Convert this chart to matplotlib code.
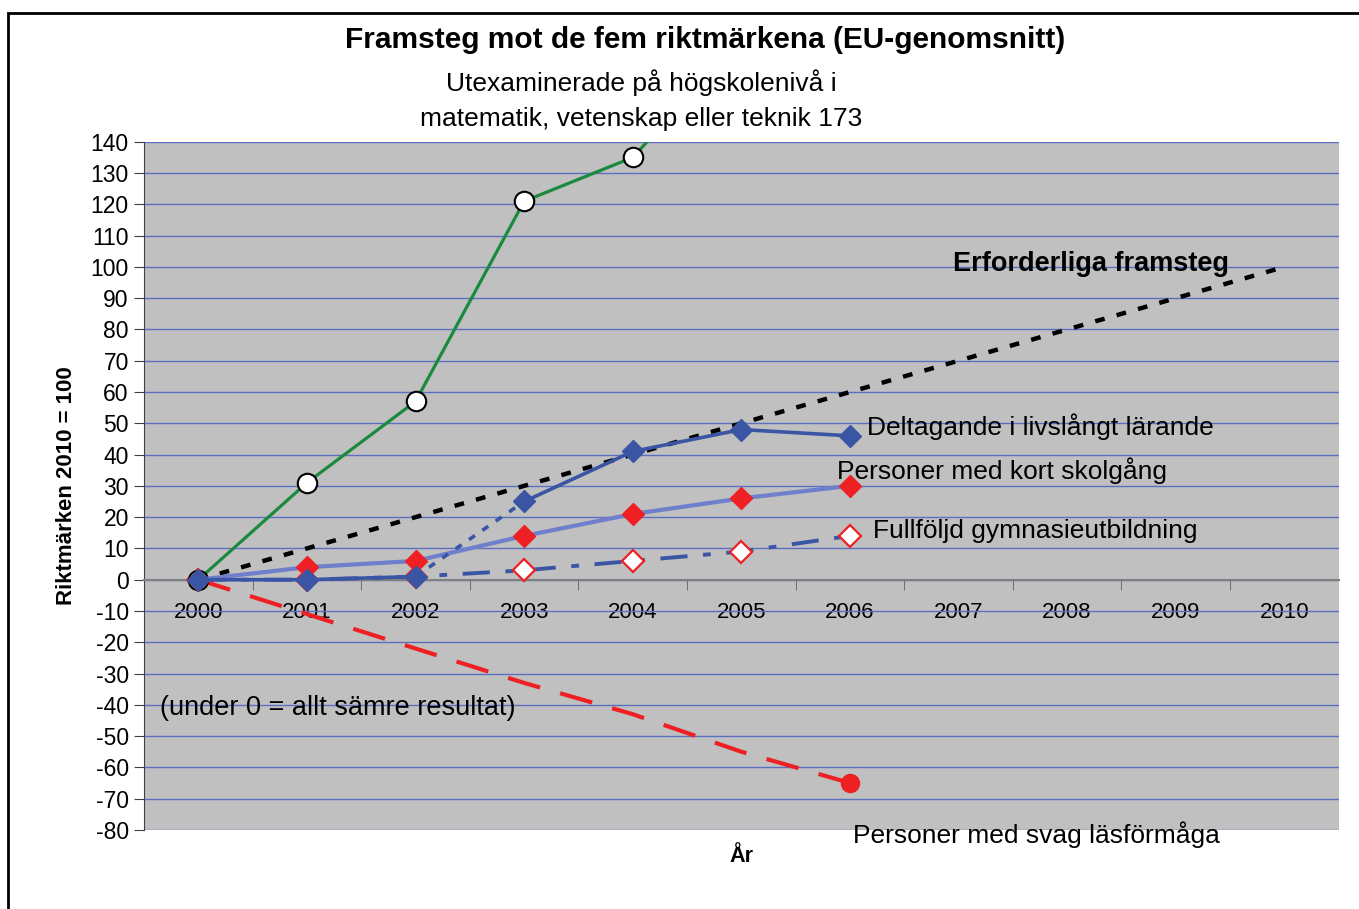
import numpy as np
import matplotlib
matplotlib.use('Agg')
import matplotlib.pyplot as plt
from matplotlib.patches import Rectangle

plt.rcParams['font.family'] = ['Liberation Sans', 'DejaVu Sans']
plt.rcParams['axes.unicode_minus'] = False

# Data
years = ['2000', '2001', '2002', '2003', '2004', '2005', '2006',
         '2007', '2008', '2009', '2010']
utexaminerade = [0, 31, 57, 121, 135, 173]
erforderliga = [0, 10, 20, 30, 40, 50, 60, 70, 80, 90, 100]
livslangt_a = [0, 0, 1]          # 2000-2002
livslangt_b = [25, 41, 48, 46]   # 2003-2006
kort_skolgang = [0, 4, 6, 14, 21, 26, 30]
gymnasie = [0, 0, 1, 3, 6, 9, 14]
lasformaga = [0, -11, -22, -33, -43, -55, -65]

green = '#1B8A3E'
blue = '#3A55A4'
lightblue = '#6F7FCC'
red = '#EE2024'

x = np.arange(len(years))

fig = plt.figure(figsize=(13.59, 9.09), dpi=100)
ax = fig.add_axes([0.106, 0.087, 0.879, 0.757])
ax.set_facecolor('#C0C0C0')

# Outer frame
fig.patches.append(Rectangle((8 / 1359, -0.1), 1.2, 1 - 13 / 909 + 0.1,
                             transform=fig.transFigure, fill=False,
                             edgecolor='black', linewidth=2))

# Erforderliga framsteg
ax.plot(x, erforderliga, color='black', lw=3.2, ls=(0, (2.2, 2.8)), zorder=3)

# Personer med svag läsförmåga
ax.plot(x[:7], lasformaga, color=red, lw=3, ls=(0, (8, 5)), zorder=3)
ax.plot(x[6], lasformaga[-1], 'o', color=red, ms=13, zorder=6)

# Utexaminerade (green)
ax.plot(x[:6], utexaminerade, color=green, lw=2.3, marker='o', ms=14,
        mfc='white', mec='black', mew=1.5, zorder=5)

# Fullföljd gymnasieutbildning
ax.plot(x[:7], gymnasie, color=blue, lw=2.8, ls=(0, (7, 4, 2, 4)),
        marker='D', ms=11, mfc='white', mec=red, mew=1.6, zorder=4)

# Personer med kort skolgång
ax.plot(x[:7], kort_skolgang, color=lightblue, lw=3, marker='D', ms=11.5,
        mfc=red, mec=red, zorder=5)

# Deltagande i livslångt lärande
ax.plot([x[2], x[3]], [livslangt_a[-1], livslangt_b[0]], color=blue, lw=2.6,
        ls=(0, (2, 2.5)), zorder=5)
ax.plot(x[:3], livslangt_a, color=blue, lw=2.6, marker='D', ms=11.5,
        mfc=blue, mec=blue, zorder=6)
ax.plot(x[3:7], livslangt_b, color=blue, lw=2.6, marker='D', ms=11.5,
        mfc=blue, mec=blue, zorder=6)

# Axes
ax.set_xlim(-0.5, 10.5)
ax.set_ylim(-80, 140)
ax.set_yticks(np.arange(-80, 141, 10))
ax.yaxis.grid(True, color='#5A6FC0', lw=1)
ax.set_axisbelow(True)
ax.tick_params(axis='y', labelsize=16.5, length=7, color='#404040', pad=4)
ax.spines['top'].set_visible(False)
ax.spines['right'].set_visible(False)
ax.spines['left'].set_color('#404040')
ax.spines['bottom'].set_position(('data', 0))
ax.spines['bottom'].set_color('#808080')
ax.spines['bottom'].set_linewidth(1.5)
ax.set_xticks(x)
ax.set_xticklabels(years)
ax.set_xticks(x[:-1] + 0.5, minor=True)
ax.tick_params(axis='x', which='major', length=0, labelsize=16, pad=16)
ax.tick_params(axis='x', which='minor', length=7, color='#606060')

ax.set_ylabel('Riktmärken 2010 = 100', fontsize=16, fontweight='bold',
              labelpad=10)
fig.text(741 / 1359, 1 - 856 / 909, 'År', fontsize=15.5, fontweight='bold',
         ha='center', va='center')

# Titles and labels
fig.text(705 / 1359, 1 - 40 / 909,
         'Framsteg mot de fem riktmärkena (EU-genomsnitt)',
         fontsize=21.5, fontweight='bold', ha='center', va='center')
fig.text(641 / 1359, 1 - 100 / 909,
         'Utexaminerade på högskolenivå i\nmatematik, vetenskap eller teknik 173',
         fontsize=19, ha='center', va='center', linespacing=1.6)
ax.text(6.95, 101, 'Erforderliga framsteg', fontsize=19.5, fontweight='bold',
        ha='left', va='center')
ax.text(6.16, 49, 'Deltagande i livslångt lärande', fontsize=19,
        ha='left', va='center')
ax.text(5.88, 35, 'Personer med kort skolgång', fontsize=19,
        ha='left', va='center')
ax.text(6.21, 15.5, 'Fullföljd gymnasieutbildning', fontsize=19,
        ha='left', va='center')
ax.text(-0.35, -41, '(under 0 = allt sämre resultat)', fontsize=19.5,
        ha='left', va='center')
ax.text(6.03, -81.5, 'Personer med svag läsförmåga', fontsize=19,
        ha='left', va='center', clip_on=False)

fig.savefig('out.png', dpi=100)
